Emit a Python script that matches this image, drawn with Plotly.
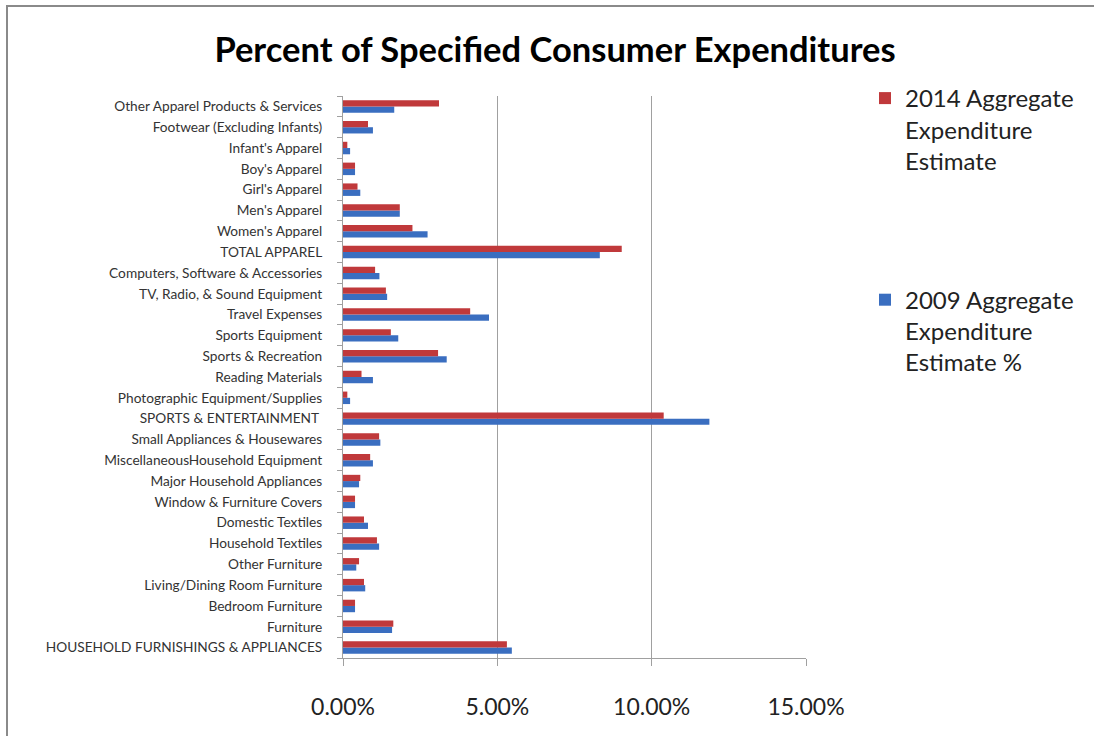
import plotly.graph_objects as go

categories = [
    "HOUSEHOLD FURNISHINGS & APPLIANCES",
    "Furniture",
    "Bedroom Furniture",
    "Living/Dining Room Furniture",
    "Other Furniture",
    "Household Textiles",
    "Domestic Textiles",
    "Window & Furniture Covers",
    "Major Household Appliances",
    "MiscellaneousHousehold Equipment",
    "Small Appliances & Housewares",
    "SPORTS & ENTERTAINMENT ",
    "Photographic Equipment/Supplies",
    "Reading Materials",
    "Sports & Recreation",
    "Sports Equipment",
    "Travel Expenses",
    "TV, Radio, & Sound Equipment",
    "Computers, Software & Accessories",
    "TOTAL APPAREL",
    "Women's Apparel",
    "Men's Apparel",
    "Girl's Apparel",
    "Boy's Apparel",
    "Infant's Apparel",
    "Footwear (Excluding Infants)",
    "Other Apparel Products & Services",
]

values_2014 = [5.31, 1.63, 0.39, 0.68, 0.52, 1.10, 0.68, 0.39, 0.56, 0.88, 1.17,
               10.39, 0.14, 0.60, 3.08, 1.55, 4.12, 1.39, 1.04,
               9.03, 2.25, 1.84, 0.47, 0.39, 0.14, 0.81, 3.11]
values_2009 = [5.47, 1.59, 0.39, 0.72, 0.43, 1.17, 0.81, 0.39, 0.52, 0.97, 1.21,
               11.87, 0.23, 0.97, 3.36, 1.79, 4.73, 1.43, 1.18,
               8.32, 2.74, 1.84, 0.56, 0.39, 0.23, 0.97, 1.66]

name_2014 = "2014 Aggregate<br>Expenditure<br>Estimate"
name_2009 = "2009 Aggregate<br>Expenditure<br>Estimate %"
x_ticks = [0, 5, 10, 15]
x_tick_labels = [f"{v:.2f}%" for v in x_ticks]

RED = "#C0393B"
BLUE = "#3A6EC0"

fig = go.Figure()
fig.add_trace(go.Bar(
    y=categories, x=values_2009, orientation="h", name=name_2009,
    marker=dict(color=BLUE, line=dict(width=0)), legendgroup="b", legendrank=2,
))
fig.add_trace(go.Bar(
    y=categories, x=values_2014, orientation="h", name=name_2014,
    marker=dict(color=RED, line=dict(width=0)), legendgroup="a", legendrank=1,
))

L, R, T, B = 343, 288, 96, 78
W, H = 1094, 736
pw, ph = W - L - R, H - T - B


def px_to_paper_x(px):
    return (px - L) / pw


def px_to_paper_y(py):
    return (H - B - py) / ph


fig.update_layout(
    width=W, height=H,
    margin=dict(l=L, r=R, t=T, b=B),
    paper_bgcolor="white", plot_bgcolor="white",
    barmode="group", bargap=0.4, bargroupgap=0,
    font=dict(family="Lato", color="#404040"),
    title=dict(
        text="<b>Percent of Specified Consumer Expenditures</b>",
        font=dict(family="Lato", size=34.5, color="#000000"),
        x=555 / W, xanchor="center", xref="container",
        y=1 - 50 / H, yanchor="middle", yref="container",
    ),
    showlegend=True,
    legend=dict(
        x=px_to_paper_x(865), xanchor="left",
        y=px_to_paper_y(76), yanchor="top",
        traceorder="grouped", tracegroupgap=105,
        valign="top",
        font=dict(family="Lato", size=24, color="#222222"),
        bgcolor="rgba(0,0,0,0)",
    ),
    xaxis=dict(
        range=[0, 15], tickvals=x_ticks, ticktext=x_tick_labels,
        showgrid=True, gridcolor="#A0A0A0", gridwidth=1,
        showline=True, linecolor="#A0A0A0", linewidth=1,
        ticks="outside", ticklen=7, tickcolor="#A0A0A0",
        tickfont=dict(family="Lato", size=23, color="#222222"),
        ticklabelstandoff=21, zeroline=False, fixedrange=True,
    ),
    yaxis=dict(
        type="category", categoryorder="array", categoryarray=categories,
        showline=True, linecolor="#A0A0A0", linewidth=1,
        ticks="outside", ticklen=5, tickcolor="#A0A0A0", tickson="boundaries",
        tickfont=dict(family="Lato", size=13.7, color="#333333"),
        ticklabelstandoff=17, showgrid=False, fixedrange=True,
    ),
    shapes=[dict(
        type="rect", xref="paper", yref="paper",
        x0=px_to_paper_x(7), x1=px_to_paper_x(1110),
        y0=px_to_paper_y(750), y1=px_to_paper_y(6),
        line=dict(color="#8A8A8A", width=2), fillcolor="rgba(0,0,0,0)",
        layer="below",
    )],
)

fig.write_html(
    "out.html",
    config={"displayModeBar": False},
    post_script="document.body.style.margin='0';",
)
